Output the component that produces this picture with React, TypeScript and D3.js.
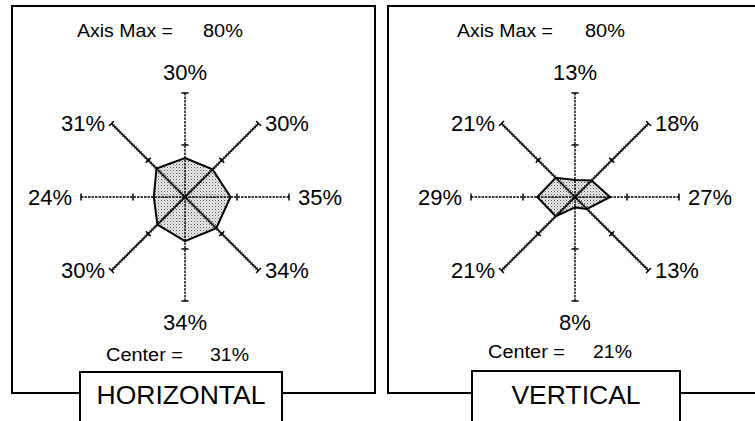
import React, { useRef, useEffect } from "react";
import * as d3 from "d3";

// axis order: top, top-right, right, bottom-right, bottom, bottom-left, left, top-left
const horizontalValues = [30, 30, 35, 34, 34, 30, 24, 31];
const verticalValues = [13, 18, 27, 13, 8, 21, 29, 21];
const panelTitles = ["HORIZONTAL", "VERTICAL"];
const axisMax = 80;
const centerValues = [31, 21];
const axisTicks = [40, 80];

const width = 755;
const height = 421;
const R = 104;

const panels = [
  { values: horizontalValues, cx: 185, cy: 197, frame: [12, 6, 375, 393], box: [80, 372, 282], maxX: [173, 203], centerX: [183, 210] },
  { values: verticalValues, cx: 575, cy: 197, frame: [388, 6, 770, 393], box: [472, 371, 680], maxX: [553, 585], centerX: [565, 593] },
];

const FONT = "'Liberation Sans', Arial, sans-serif";

const App = () => {
  const svgRef = useRef<SVGSVGElement>(null);

  useEffect(() => {
    const svg = d3.select(svgRef.current);
    svg.selectAll("*").remove();

    const defs = svg.append("defs");
    const pat = defs
      .append("pattern")
      .attr("id", "stipple")
      .attr("width", 3)
      .attr("height", 3)
      .attr("patternUnits", "userSpaceOnUse");
    pat.append("rect").attr("width", 3).attr("height", 3).attr("fill", "#eee");
    pat.append("rect").attr("x", 0).attr("y", 0).attr("width", 1).attr("height", 1).attr("fill", "#555");
    pat.append("rect").attr("x", 1.5).attr("y", 1.5).attr("width", 1).attr("height", 1).attr("fill", "#888");

    const r = d3.scaleLinear().domain([0, axisMax]).range([0, R]);
    const angle = (i: number) => (i * Math.PI) / 4; // clockwise from top

    panels.forEach((p, pi) => {
      const g = svg.append("g");
      const [fx0, fy0, fx1, fy1] = p.frame;
      const [bx0, by0, bx1] = p.box;

      // frame, open at the bottom where the title box sits
      g.append("path")
        .attr("d", `M${bx0},${fy1} L${fx0},${fy1} L${fx0},${fy0} L${fx1},${fy0} L${fx1},${fy1} L${bx1},${fy1}`)
        .attr("fill", "none")
        .attr("stroke", "#000")
        .attr("stroke-width", 2);

      // title box
      g.append("rect")
        .attr("x", bx0)
        .attr("y", by0)
        .attr("width", bx1 - bx0)
        .attr("height", 60)
        .attr("fill", "#fff")
        .attr("stroke", "#000")
        .attr("stroke-width", 2);
      g.append("text")
        .attr("x", (bx0 + bx1) / 2)
        .attr("y", 404)
        .attr("text-anchor", "middle")
        .attr("font-family", FONT)
        .attr("font-size", 26.5)
        .text(panelTitles[pi]);

      // header / footer
      const small = (x: number, y: number, anchor: string, txt: string, len?: number) => {
        const t = g
          .append("text")
          .attr("x", x)
          .attr("y", y)
          .attr("text-anchor", anchor)
          .attr("font-family", FONT)
          .attr("font-size", 17.5)
          .text(txt);
        if (len) t.attr("textLength", len).attr("lengthAdjust", "spacingAndGlyphs");
      };
      small(p.maxX[0], 37, "end", "Axis Max =", 96);
      small(p.maxX[1], 37, "start", `${axisMax}%`, 40);
      small(p.centerX[0], 361 - pi * 3, "end", "Center =", 77);
      small(p.centerX[1], 361 - pi * 3, "start", `${centerValues[pi]}%`, 39);

      const plot = g.append("g").attr("transform", `translate(${p.cx},${p.cy})`);

      // polygon
      const line = d3
        .lineRadial<number>()
        .angle((d, i) => angle(i))
        .radius((d) => r(d))
        .curve(d3.curveLinearClosed);
      plot
        .append("path")
        .attr("d", line(p.values))
        .attr("fill", "url(#stipple)")
        .attr("stroke", "#000")
        .attr("stroke-width", 2);

      // axes
      p.values.forEach((v, i) => {
        const a = angle(i);
        const ux = Math.sin(a);
        const uy = -Math.cos(a);
        const diag = i % 2 === 1;
        const ex = ux * r(axisMax);
        const ey = uy * r(axisMax);
        plot
          .append("line")
          .attr("x1", 0)
          .attr("y1", 0)
          .attr("x2", ex)
          .attr("y2", ey)
          .attr("stroke", "#000")
          .attr("stroke-width", diag ? 1.5 : 1.4)
          .attr("stroke-dasharray", diag ? null : "2.5 1");
        if (diag) {
          plot
            .append("line")
            .attr("x1", 0)
            .attr("y1", 0)
            .attr("x2", ex)
            .attr("y2", ey)
            .attr("stroke", "#000")
            .attr("stroke-width", 3.5)
            .attr("stroke-dasharray", "0.8 1.6")
            .attr("opacity", 0.8);
        }
        axisTicks.forEach((t) => {
          const tx = ux * r(t);
          const ty = uy * r(t);
          const hl = 3.5;
          plot
            .append("line")
            .attr("x1", tx - uy * hl)
            .attr("y1", ty + ux * hl)
            .attr("x2", tx + uy * hl)
            .attr("y2", ty - ux * hl)
            .attr("stroke", "#000")
            .attr("stroke-width", 1.5);
        });

        // value labels
        const off = 9;
        const lx = ex + ux * off;
        let ly = ey + uy * off;
        let anchor = "middle";
        if (ux > 0.1) anchor = "start";
        else if (ux < -0.1) anchor = "end";
        if (!diag && i % 4 === 0) ly = ey + uy * 21;
        if (diag) ly = ey;
        plot
          .append("text")
          .attr("x", lx)
          .attr("y", ly)
          .attr("dy", "0.36em")
          .attr("text-anchor", anchor)
          .attr("font-family", FONT)
          .attr("font-size", 22)
          .text(`${v}%`);
      });
    });
  }, []);

  return (
    <svg
      ref={svgRef}
      width={width}
      height={height}
      style={{ position: "absolute", left: 0, top: 0, background: "#fff" }}
    />
  );
};

export default App;
